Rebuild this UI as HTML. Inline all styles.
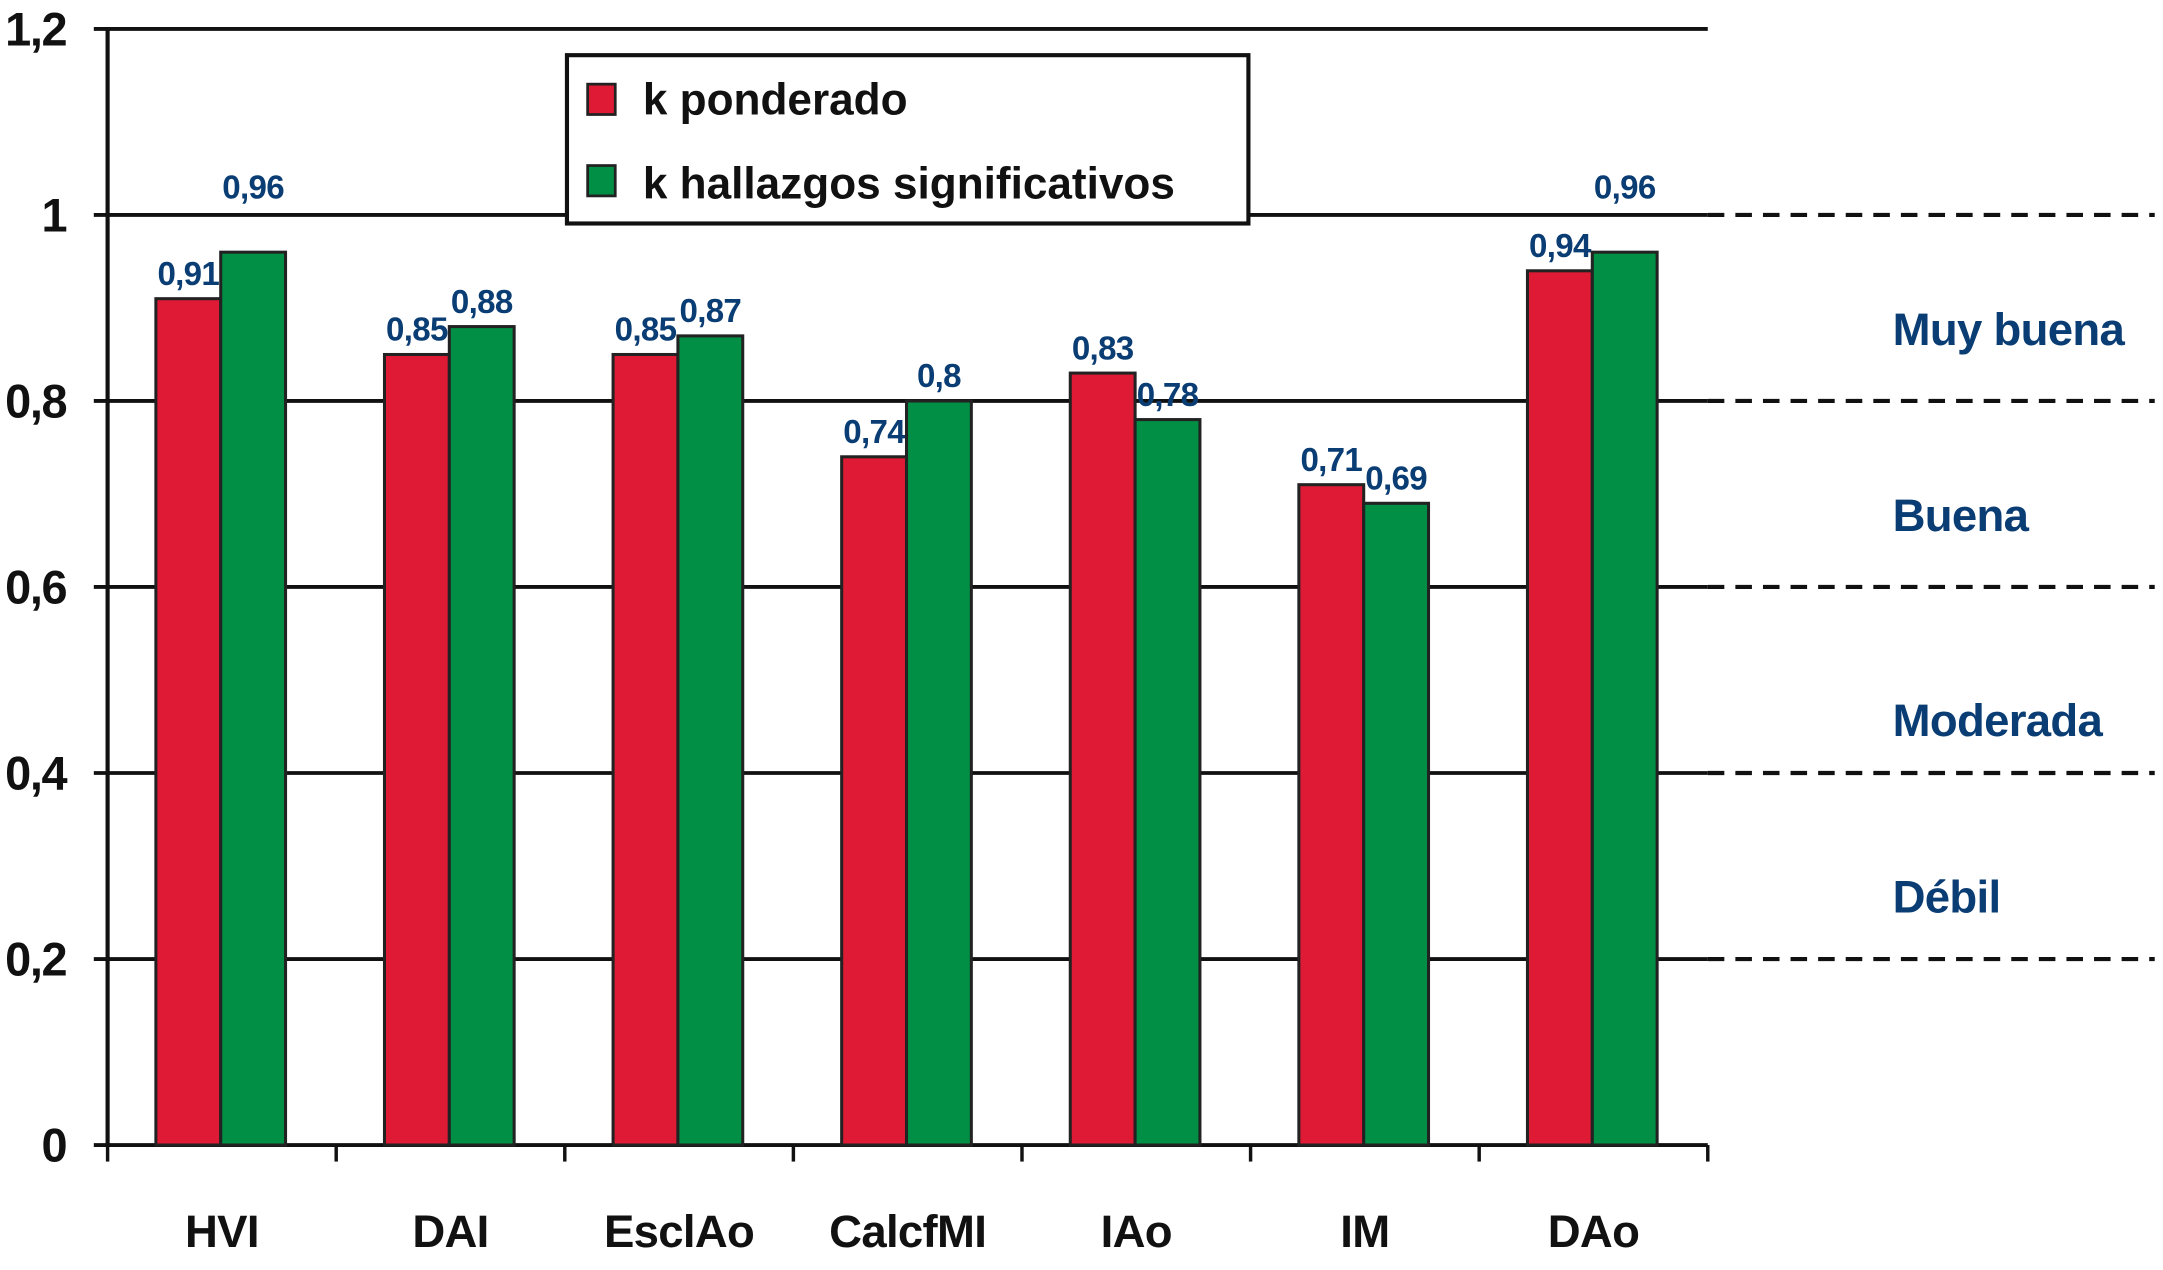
<!DOCTYPE html>
<html><head><meta charset="utf-8"><style>
html,body{margin:0;padding:0;background:#fff;}
svg{display:block;}
text{font-family:"Liberation Sans",sans-serif;font-weight:bold;}
</style></head><body>
<svg id="chart" width="2163" height="1270" viewBox="0 0 1568 920.6" preserveAspectRatio="none" xmlns="http://www.w3.org/2000/svg"></svg>
<script>
const categories = ["HVI","DAI","EsclAo","CalcfMI","IAo","IM","DAo"];
const kPonderado = [0.91,0.85,0.85,0.74,0.83,0.71,0.94];
const kHallazgos = [0.96,0.88,0.87,0.80,0.78,0.69,0.96];
const yTicks = [0,0.2,0.4,0.6,0.8,1,1.2];
const yTickLabels = ["0","0,2","0,4","0,6","0,8","1","1,2"];
const bands = ["Muy buena","Buena","Moderada","Débil"];
const bandCenters = [0.9,0.7,0.48,0.29];

const NS="http://www.w3.org/2000/svg";
const svg=document.getElementById('chart');
const X0=78, X1=1238, Y0=830, YTOP=21;
function y(v){return Y0-(Y0-YTOP)*v/1.2;}
const gw=(X1-X0)/categories.length;
function gx(i){return X0+gw*i;}
function fmt(v){return String(v).replace('.',',');}
function mk(tag,attrs,parent){const e=document.createElementNS(NS,tag);for(const k in attrs)e.setAttribute(k,attrs[k]);(parent||svg).appendChild(e);return e;}

yTicks.forEach((t,i)=>{
  const l=mk('line',{x1:68,x2:X1,y1:y(t),y2:y(t),stroke:'#111','stroke-width':2.8});
  
  
  if(t>0&&t<1.2){
    const d=mk('line',{x1:X1,x2:1562,y1:y(t),y2:y(t),stroke:'#111','stroke-width':3,'stroke-dasharray':'12,8'});
    
    
  }
  const tx=mk('text',{x:48,y:y(t)+12,'text-anchor':'end','font-size':34,'letter-spacing':-1,fill:'#111'});
  tx.textContent=yTickLabels[i];
  
  
});
const ya=mk('line',{x1:X0,x2:X0,y1:YTOP,y2:Y0,stroke:'#111','stroke-width':3});


for(let i=0;i<=categories.length;i++){
  const t=mk('line',{x1:gx(i),x2:gx(i),y1:Y0,y2:842,stroke:'#111','stroke-width':2.5});
  
  
}
const bw=47;
categories.forEach((c,i)=>{
  const xr=gx(i)+35, xg=xr+bw;
  [[kPonderado[i],xr,'#de1a35','bar-k-ponderado-'],[kHallazgos[i],xg,'#008f45','bar-k-hallazgos-']].forEach(([v,x,col,nm])=>{
    const r=mk('rect',{x:x,y:y(v),width:bw,height:Y0-y(v),fill:col,stroke:'#222','stroke-width':2.2});
    
    
    const ly=v>=0.95?y(1)-12:y(v)-10;
    const lt=mk('text',{x:x+bw/2,y:ly,'text-anchor':'middle','font-size':24,'letter-spacing':-0.5,fill:'#0a3d73'});
    lt.textContent=fmt(v);
    
    
  });
  const cl=mk('text',{x:gx(i)+gw/2,y:904,'text-anchor':'middle','font-size':33,'letter-spacing':-0.5,fill:'#111'});
  cl.textContent=c;
  
  
});
bands.forEach((b,i)=>{
  const t=mk('text',{x:1372,y:y(bandCenters[i])+27,'font-size':33,'letter-spacing':-0.5,fill:'#0a3d73'});
  t.textContent=b;
  
  
});
const lg=mk('g',{});


mk('rect',{x:411,y:40,width:494,height:122,fill:'#fff',stroke:'#111','stroke-width':3},lg);
mk('rect',{x:426,y:61,width:20,height:22,fill:'#de1a35',stroke:'#222','stroke-width':2},lg);
mk('rect',{x:426,y:120,width:20,height:22,fill:'#008f45',stroke:'#222','stroke-width':2},lg);
const l1=mk('text',{x:466,y:83,'font-size':32,fill:'#111'},lg);l1.textContent='k ponderado';


const l2=mk('text',{x:466,y:144,'font-size':32,fill:'#111'},lg);l2.textContent='k hallazgos significativos';


</script>
</body></html>
